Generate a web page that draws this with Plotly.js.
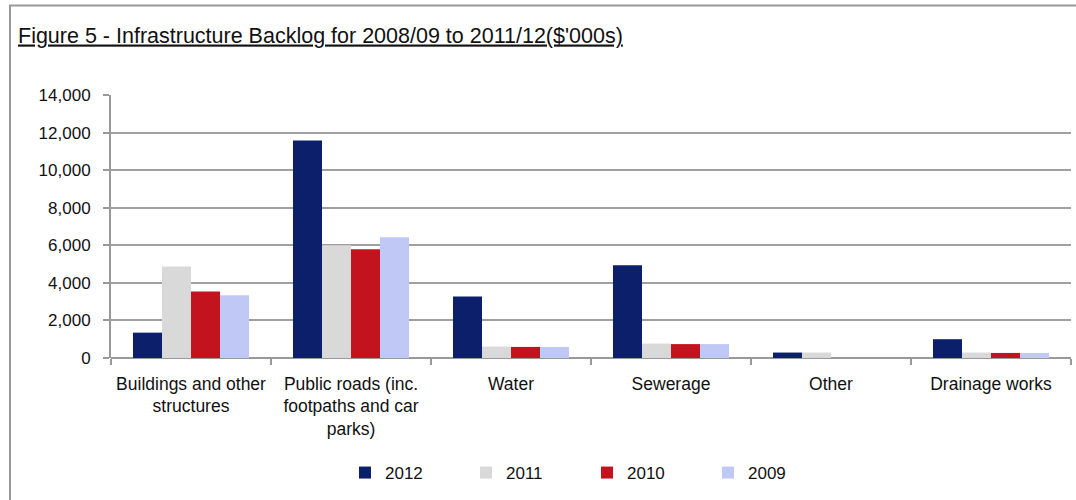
<!DOCTYPE html>
<html><head><meta charset="utf-8">
<script src="https://cdn.plot.ly/plotly-3.0.1.min.js"></script>
<style>body{margin:0;padding:0;background:#fff}#chart{width:1076px;height:500px}</style>
</head><body><div id="chart"></div>
<script>
const categories = ["Buildings and other<br>structures", "Public roads (inc.<br>footpaths and car<br>parks)", "Water", "Sewerage", "Other", "Drainage works"];
const seriesNames = ["2012", "2011", "2010", "2009"];
const v2012 = [1350, 11580, 3270, 4940, 290, 1000];
const v2011 = [4870, 6000, 610, 770, 290, 290];
const v2010 = [3540, 5790, 590, 740, 0, 270];
const v2009 = [3340, 6430, 590, 740, 0, 270];
const colors = ["#0c1f6b", "#d9d9d9", "#c3131f", "#c0c9f5"];
const yTicks = [0, 2000, 4000, 6000, 8000, 10000, 12000, 14000];
const yTickText = ["0", "2,000", "4,000", "6,000", "8,000", "10,000", "12,000", "14,000"];

const FONT = "'Liberation Sans Narrow', 'Arial Narrow', 'Liberation Sans', Arial, sans-serif";
const values = [v2012, v2011, v2010, v2009];
const traces = values.map((v, i) => ({
  type: 'bar', x: categories, y: v, name: seriesNames[i],
  marker: {color: colors[i]}, hoverinfo: 'x+y'
}));

const layout = {
  width: 1076, height: 500,
  margin: {l: 111, r: 5, t: 95, b: 142},
  paper_bgcolor: '#fff', plot_bgcolor: '#fff',
  font: {family: FONT, size: 17, color: '#111'},
  title: {
    text: "Figure 5 - Infrastructure Backlog for 2008/09 to 2011/12($'000s)",
    xref: 'container', yref: 'container', x: 18/1076, xanchor: 'left',
    y: 1 - 35/500, yanchor: 'middle',
    font: {family: FONT, size: 21.5, color: '#111', lineposition: 'under'}
  },
  barmode: 'group', bargap: 0.275, bargroupgap: 0,
  xaxis: {
    type: 'category', tickson: 'boundaries', ticks: 'outside', ticklen: 6,
    tickcolor: '#999', tickwidth: 2, showline: false, showgrid: false,
    tickangle: 0, automargin: false,
    tickfont: {family: FONT, size: 17.5}, ticklabelstandoff: 13
  },
  yaxis: {
    range: [0, 14000], tickvals: yTicks, ticktext: yTickText,
    ticks: 'outside', ticklen: 6, tickcolor: '#999', tickwidth: 2,
    showline: true, linecolor: '#999', linewidth: 2,
    showgrid: true, gridcolor: '#a0a0a0', gridwidth: 2,
    zeroline: true, zerolinecolor: '#999', zerolinewidth: 2,
    tickfont: {family: FONT, size: 17}, ticklabelstandoff: 9
  },
  showlegend: true,
  legend: {
    orientation: 'h', xref: 'paper', yref: 'paper',
    x: (345 - 111)/960, xanchor: 'left', y: (358 - 473)/263, yanchor: 'middle',
    entrywidth: 76, entrywidthmode: 'pixels',
    font: {family: FONT, size: 17}, itemwidth: 30, traceorder: 'normal'
  },
  shapes: [{
    type: 'rect', xref: 'paper', yref: 'paper',
    x0: (10 - 111)/960, x1: 1.05, y0: -0.7, y1: (358 - 5.5)/263,
    line: {color: '#999', width: 2}, fillcolor: 'rgba(0,0,0,0)', layer: 'below'
  }]
};
Plotly.newPlot('chart', traces, layout, {displayModeBar: false, staticPlot: true});
</script></body></html>
